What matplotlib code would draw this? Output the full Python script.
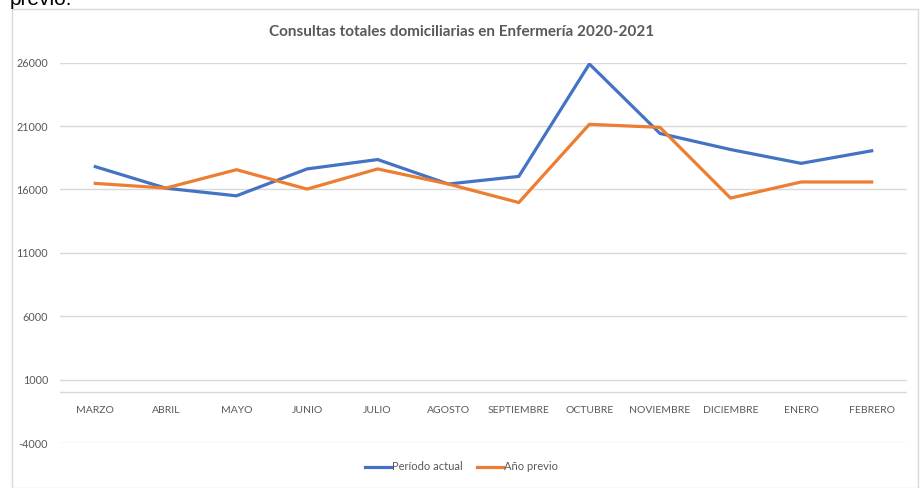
import matplotlib
matplotlib.use("Agg")
import matplotlib.pyplot as plt
from matplotlib.patches import Rectangle
from matplotlib.lines import Line2D

# Data
months = ["MARZO", "ABRIL", "MAYO", "JUNIO", "JULIO", "AGOSTO", "SEPTIEMBRE",
          "OCTUBRE", "NOVIEMBRE", "DICIEMBRE", "ENERO", "FEBRERO"]
periodo_actual = [17800, 16100, 15500, 17620, 18360, 16430, 17030,
                  25900, 20420, 19150, 18060, 19050]
anio_previo = [16480, 16110, 17560, 16030, 17620, 16430, 14970,
               21140, 20900, 15320, 16590, 16590]
yticks = [-4000, 1000, 6000, 11000, 16000, 21000, 26000]

title = "Consultas totales domiciliarias en Enfermería 2020-2021"
blue = "#4472C4"
orange = "#ED7D31"
grid_c = "#D9D9D9"
text_c = "#595959"
font = ["Lato", "DejaVu Sans"]

fig = plt.figure(figsize=(9.23, 4.88), dpi=100)
W, H = 923, 488

# outer chart frame and the cut-off text above it
fig.patches.append(Rectangle((12 / W, 0), (918 - 12) / W, 1 - 9 / H,
                             transform=fig.transFigure, fill=False,
                             edgecolor=grid_c, linewidth=1))
fig.text(10 / W, 1 - 5 / H, "previo.", fontsize=15, color="black",
         family=["Liberation Sans", "DejaVu Sans"], va="baseline", ha="left")

ax = fig.add_axes([60 / W, 1 - 443 / H, (907 - 60) / W, (443 - 62.7) / H])
x = list(range(len(months)))
ax.set_xlim(-0.5, len(months) - 0.5)
ax.set_ylim(-4000, 26000)

for v in yticks:
    ax.axhline(v, color=grid_c, lw=1, zorder=0)
ax.axhline(0, color=grid_c, lw=1, zorder=0)

ax.plot(x, periodo_actual, color=blue, lw=2.3, solid_joinstyle="round")
ax.plot(x, anio_previo, color=orange, lw=2.3, solid_joinstyle="round")

for s in ax.spines.values():
    s.set_visible(False)
ax.set_yticks(yticks)
ax.set_yticklabels([str(v) for v in yticks], fontsize=7.8, color=text_c,
                   family=font)
ax.tick_params(axis="y", length=0, pad=8.5)
ax.set_xticks([])
for i, m in enumerate(months):
    ax.text(i, -1400, m, ha="center", va="center", fontsize=7.5, color=text_c,
            family=font)

fig.text(0.5, 1 - 32 / H, title, ha="center", va="center", fontsize=11,
         fontweight="bold", color=text_c, family=font)

handles = [Line2D([], [], color=blue, lw=2.3),
           Line2D([], [], color=orange, lw=2.3)]
fig.legend(handles, ["Período actual", "Año previo"], loc="center",
           bbox_to_anchor=(0.5, 1 - 467 / H), ncol=2, frameon=False,
           handlelength=2.3, handletextpad=0.1, columnspacing=1.35,
           prop={"family": font, "size": 8}, labelcolor=text_c)

fig.savefig("out.png", dpi=100, facecolor="white")
